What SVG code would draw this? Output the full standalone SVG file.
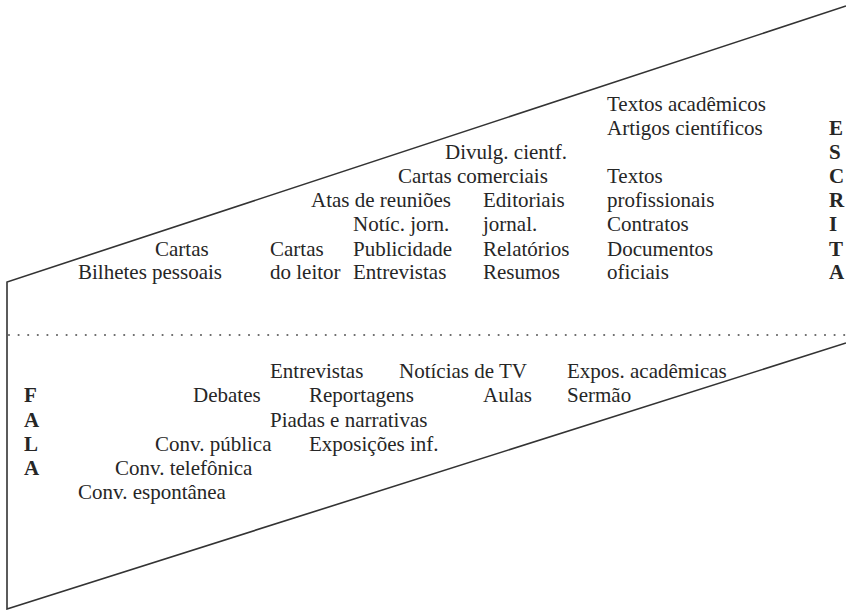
<svg xmlns="http://www.w3.org/2000/svg" width="846" height="610" viewBox="0 0 846 610">
<style>
text{font-family:"Liberation Serif","Times New Roman",serif;font-size:21px;fill:#262626}
.b{font-weight:bold}
.ln{stroke:#333;stroke-width:1.6;fill:none}
.dot{stroke:#666;stroke-width:2.2;stroke-linecap:round;stroke-dasharray:0 9.6;fill:none}
</style>
<rect width="846" height="610" fill="#fff"/>
<g id="connectors">
<path class="ln" d="M846,6 L7,282 L7,609 L846,343"/>
<path class="dot" d="M9,335 L846,335"/>
</g>
<g id="escrita">
<text x="607" y="111">Textos acadêmicos</text>
<text x="607" y="135">Artigos científicos</text>
<text x="445" y="159">Divulg. cientf.</text>
<text x="398" y="183">Cartas comerciais</text>
<text x="607" y="183">Textos</text>
<text x="311" y="207">Atas de reuniões</text>
<text x="483" y="207">Editoriais</text>
<text x="607" y="207">profissionais</text>
<text x="353" y="231">Notíc. jorn.</text>
<text x="483" y="231">jornal.</text>
<text x="607" y="231">Contratos</text>
<text x="155" y="256">Cartas</text>
<text x="270" y="256">Cartas</text>
<text x="353" y="256">Publicidade</text>
<text x="483" y="256">Relatórios</text>
<text x="607" y="256">Documentos</text>
<text x="78" y="279">Bilhetes</text>
<text x="152" y="279">pessoais</text>
<text x="270" y="279">do leitor</text>
<text x="353" y="279">Entrevistas</text>
<text x="483" y="279">Resumos</text>
<text x="607" y="279">oficiais</text>
</g>
<g id="label-escrita">
<text class="b" x="829" y="135">E</text>
<text class="b" x="829" y="159">S</text>
<text class="b" x="829" y="183">C</text>
<text class="b" x="829" y="207">R</text>
<text class="b" x="829" y="231">I</text>
<text class="b" x="829" y="256">T</text>
<text class="b" x="829" y="279">A</text>
</g>
<g id="fala">
<text x="270" y="378">Entrevistas</text>
<text x="399" y="378">Notícias de TV</text>
<text x="567" y="378">Expos. acadêmicas</text>
<text x="193" y="402">Debates</text>
<text x="309" y="402">Reportagens</text>
<text x="483" y="402">Aulas</text>
<text x="567" y="402">Sermão</text>
<text x="270" y="427">Piadas e narrativas</text>
<text x="155" y="451">Conv. pública</text>
<text x="309" y="451">Exposições inf.</text>
<text x="115" y="475">Conv. telefônica</text>
<text x="78" y="499">Conv. espontânea</text>
</g>
<g id="label-fala">
<text class="b" x="24" y="402">F</text>
<text class="b" x="24" y="427">A</text>
<text class="b" x="24" y="451">L</text>
<text class="b" x="24" y="475">A</text>
</g>
</svg>
